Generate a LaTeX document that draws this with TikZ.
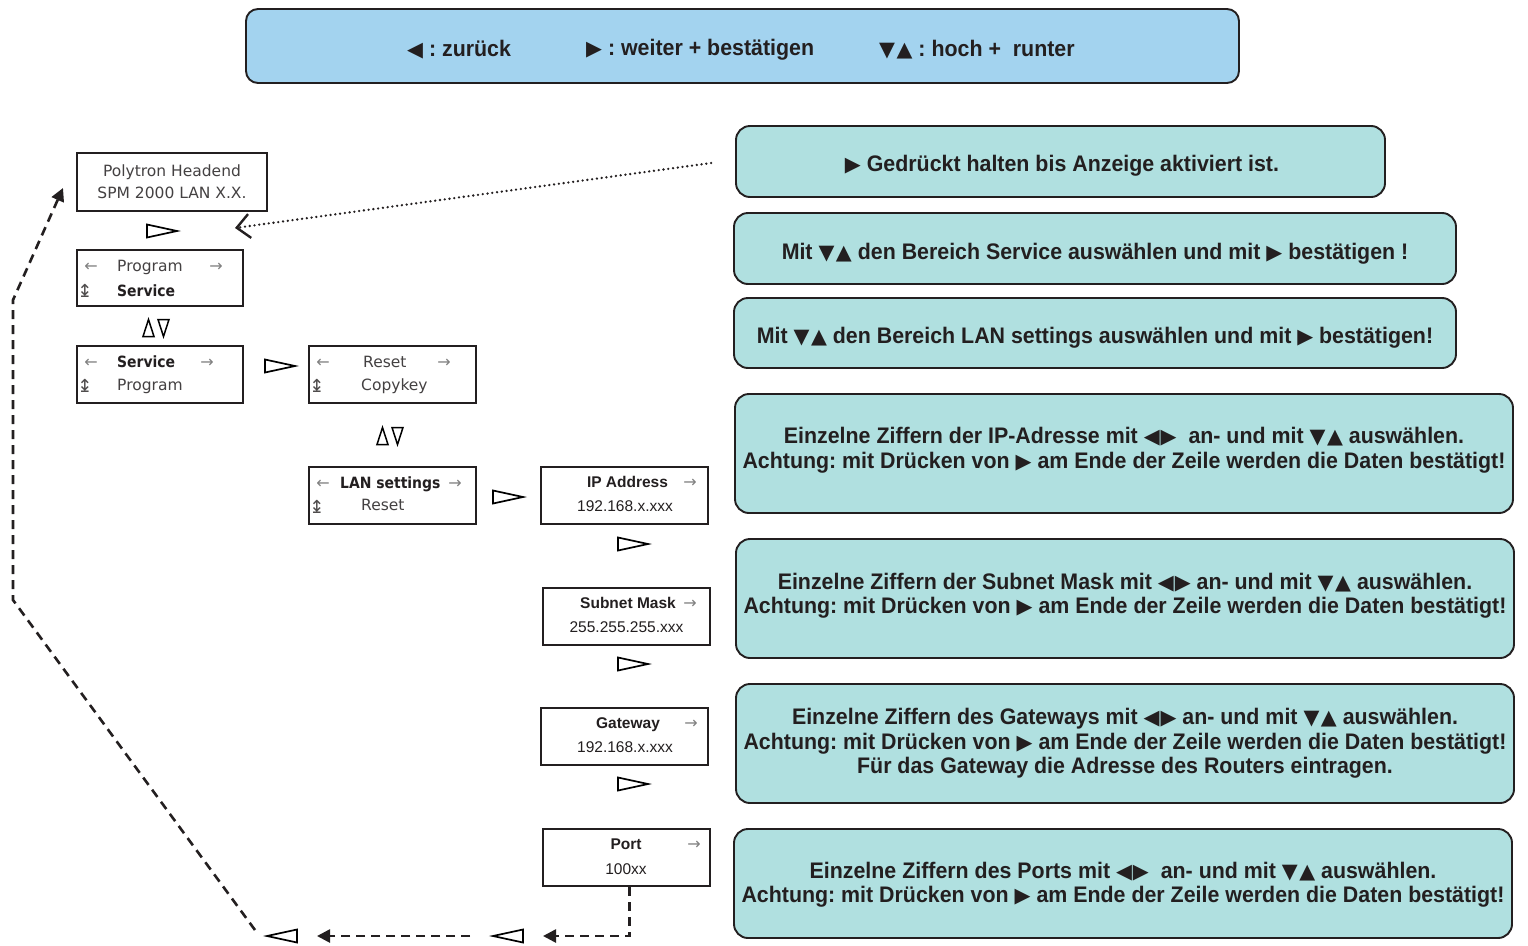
\documentclass[tikz,border=0pt]{standalone}
\usepackage{fontspec}
\setmainfont{Liberation Sans}
\newfontfamily\cond{Liberation Sans}[FakeStretch=0.95]
\newfontfamily\sym{DejaVu Sans}[Scale=0.92]
\newfontfamily\lcd{DejaVu Sans}
\newfontfamily\lcdc{DejaVu Sans Condensed}
\usetikzlibrary{arrows.meta,calc}
\frenchspacing
\definecolor{ink}{HTML}{231F20}
\definecolor{barblue}{HTML}{A3D3EF}
\definecolor{tealfill}{HTML}{B0E0E0}
\newcommand\symR{{\sym ▶}}
\newcommand\symL{{\sym ◀}}
\newcommand\symLR{{\sym ◀\kern1pt▶}}
\newcommand\symDU{{\sym ▼\kern1.5pt▲}}
\tikzset{
  pics/triright/.style={code={\draw[line width=1.7pt,line join=miter] (-15,-6.5)--(15,0)--(-15,6.5)--cycle;}},
  pics/trileft/.style={code={\draw[line width=1.7pt,line join=miter] (15,-6.5)--(-15,0)--(15,6.5)--cycle;}},
  pics/updown/.style={code={\draw[line width=1.5pt,line join=miter] (-13,8.5)--(-7.5,-8.5)--(-2,8.5)--cycle (2,-8.5)--(7.5,8.5)--(13,-8.5)--cycle;}}
}
\begin{document}
\begin{tikzpicture}[x=1pt,y=-1pt,
  lcdbox/.style={draw=ink, line width=2pt, fill=white, inner sep=0pt},
  tealbox/.style={draw=ink, line width=1.9pt, fill=tealfill, rounded corners=14pt, inner sep=0pt},
  tealtext/.style={text=ink, align=center, inner sep=0pt, font=\cond\bfseries\fontsize{22.5}{24.5}\selectfont},
  bartext/.style={text=ink, anchor=west, inner sep=0pt, font=\cond\bfseries\fontsize{22.5}{24}\selectfont},
  lcdtxt/.style={text=ink!85, anchor=base west, inner sep=0pt, font=\lcd\fontsize{15.5}{22}\selectfont},
  lcdbold/.style={text=ink, anchor=base west, inner sep=0pt, font=\lcdc\bfseries\fontsize{15.5}{22}\selectfont},
  arrtxt/.style={text=gray, inner sep=0pt, font=\lcd\fontsize{16}{16}\selectfont},
  udtxt/.style={text=ink!80, inner sep=0pt, font=\lcd\fontsize{18}{18}\selectfont},
  arl/.style={text=ink, anchor=base, inner sep=0pt, font=\fontsize{15.5}{18}\selectfont},
  arlb/.style={text=ink, anchor=base, inner sep=0pt, font=\bfseries\fontsize{15.5}{18}\selectfont},
  dashline/.style={draw=ink, line width=2.6pt, dash pattern=on 9pt off 6pt},
  fillhead/.style={-{Triangle[length=13pt,width=13pt]}},
  dotarrow/.style={draw=ink, line width=2.6pt, line cap=round, dash pattern=on 0pt off 4.8pt,
     -{Straight Barb[length=13pt,width=24pt,line width=2.4pt]}}
]
\useasboundingbox (0,0) rectangle (1528,945);

% top legend bar
\node[draw=ink, line width=1.9pt, fill=barblue, rounded corners=12pt,
      minimum width=993, minimum height=74, inner sep=0pt] (bar) at (742.5,46) {};
\node[bartext] (k1) at (407,50) {\symL\ : zurück};
\node[bartext] (k2) at (586,50) {\symR\ : weiter + bestätigen};
\node[bartext] (k3) at (879,50) {\symDU\ : hoch +\ \ runter};

% teal explanation boxes
\node[tealbox, minimum width=649, minimum height=71] (t1) at (1060.5,161.5) {};
\node[tealtext] (x1) at (1062,166) {\symR\ Gedrückt halten bis Anzeige aktiviert ist.};
\node[tealbox, minimum width=722, minimum height=71] (t2) at (1095,248.5) {};
\node[tealtext] (x2) at (1095,254) {Mit \symDU\ den Bereich Service auswählen und mit \symR\ bestätigen !};
\node[tealbox, minimum width=722, minimum height=70] (t3) at (1095,333) {};
\node[tealtext] (x3) at (1095,338) {Mit \symDU\ den Bereich LAN settings auswählen und mit \symR\ bestätigen!};
\node[tealbox, minimum width=778, minimum height=119] (t4) at (1124,453.5) {};
\node[tealtext] (x4) at (1124,450) {Einzelne Ziffern der IP-Adresse mit \symLR\ \ an- und mit \symDU\ auswählen.\\Achtung: mit Drücken von \symR\ am Ende der Zeile werden die Daten bestätigt!};
\node[tealbox, minimum width=778, minimum height=119] (t5) at (1125,598.5) {};
\node[tealtext] (x5) at (1125,595.5) {Einzelne Ziffern der Subnet Mask mit \symLR\ an- und mit \symDU\ auswählen.\\Achtung: mit Drücken von \symR\ am Ende der Zeile werden die Daten bestätigt!};
\node[tealbox, minimum width=778, minimum height=119] (t6) at (1125,743.5) {};
\node[tealtext] (x6) at (1125,743.5) {Einzelne Ziffern des Gateways mit \symLR\ an- und mit \symDU\ auswählen.\\Achtung: mit Drücken von \symR\ am Ende der Zeile werden die Daten bestätigt!\\Für das Gateway die Adresse des Routers eintragen.};
\node[tealbox, minimum width=778, minimum height=109] (t7) at (1123,883.5) {};
\node[tealtext] (x7) at (1123,884.5) {Einzelne Ziffern des Ports mit \symLR\ \ an- und mit \symDU\ auswählen.\\Achtung: mit Drücken von \symR\ am Ende der Zeile werden die Daten bestätigt!};

% LCD boxes
\node[lcdbox, minimum width=190, minimum height=58, align=center, text=ink!85,
      font=\lcd\fontsize{15.5}{22}\selectfont] (head) at (172,182) {Polytron Headend\\SPM 2000 LAN X.X.};

\node[lcdbox, minimum width=166, minimum height=56] (b) at (160,278) {};
\node[arrtxt] (bl) at (91,267) {←};
\node[lcdtxt] (b1t) at (117,271.5) {Program};
\node[arrtxt] (br) at (216,267) {→};
\node[udtxt] (bu) at (85,291) {↨};
\node[lcdbold] (b2t) at (117,296) {Service};

\node[lcdbox, minimum width=166, minimum height=57] (c) at (160,374.5) {};
\node[arrtxt] (cl) at (91,363) {←};
\node[lcdbold] (c1t) at (117,367.5) {Service};
\node[arrtxt] (cr) at (207,363) {→};
\node[udtxt] (cu) at (85,386) {↨};
\node[lcdtxt] (c2t) at (117,390.5) {Program};

\node[lcdbox, minimum width=167, minimum height=57] (d) at (392.5,374.5) {};
\node[arrtxt] (dl) at (323,363) {←};
\node[lcdtxt] (d1t) at (363,367.5) {Reset};
\node[arrtxt] (dr) at (444,363) {→};
\node[udtxt] (du) at (317,386) {↨};
\node[lcdtxt] (d2t) at (361,390.5) {Copykey};

\node[lcdbox, minimum width=167, minimum height=57] (e) at (392.5,495.5) {};
\node[arrtxt] (el) at (323,484) {←};
\node[lcdbold] (e1t) at (340,488.5) {LAN settings};
\node[arrtxt] (er) at (455,484) {→};
\node[udtxt] (eu) at (317,507) {↨};
\node[lcdtxt] (e2t) at (361,510.5) {Reset};

\node[lcdbox, minimum width=167, minimum height=57] (ip) at (624.5,495.5) {};
\node[arlb] (ip1) at (627.5,487) {IP Address};
\node[arrtxt] (ipr) at (690,483) {→};
\node[arl] (ip2) at (625,511) {192.168.x.xxx};

\node[lcdbox, minimum width=167, minimum height=57] (sm) at (626.5,616.5) {};
\node[arlb] (sm1) at (628,608) {Subnet Mask};
\node[arrtxt] (smr) at (690,604) {→};
\node[arl] (sm2) at (626.5,632) {255.255.255.xxx};

\node[lcdbox, minimum width=167, minimum height=57] (gw) at (624.5,736.5) {};
\node[arlb] (gw1) at (628,728) {Gateway};
\node[arrtxt] (gwr) at (691,724) {→};
\node[arl] (gw2) at (625,752) {192.168.x.xxx};

\node[lcdbox, minimum width=167, minimum height=57] (port) at (626.5,857.5) {};
\node[arlb] (po1) at (626,849) {Port};
\node[arrtxt] (por) at (694,845) {→};
\node[arl] (po2) at (626,874) {100xx};

% open triangles
\pic at (162,231) {triright};
\pic at (280,366) {triright};
\pic at (508,497) {triright};
\pic at (633,544) {triright};
\pic at (633,664) {triright};
\pic at (633,784) {triright};
\pic at (156,328) {updown};
\pic at (390,436) {updown};
\coordinate (q2) at (508,936);
\coordinate (q1) at (282,936);
\pic at (q2) {trileft};
\pic at (q1) {trileft};

% dotted arrow
\coordinate (hold) at (235,228);
\draw[dotarrow] ([xshift=-24pt,yshift=-1.5pt]t1.west) -- (hold);

% dashed return loop
\coordinate (lc1) at (13,600);
\coordinate (lc2) at (13,300);
\draw[dashline, fillhead] ([xshift=3pt]port.south) |- ([xshift=35pt]q2);
\draw[dashline, fillhead] ([xshift=-38pt]q2) -- ([xshift=35pt]q1);
\draw[dashline, fillhead] ([xshift=-27pt,yshift=6pt]q1) -- (lc1) -- (lc2) -- ([xshift=-13pt,yshift=-6pt]head.west);
\end{tikzpicture}
\end{document}
